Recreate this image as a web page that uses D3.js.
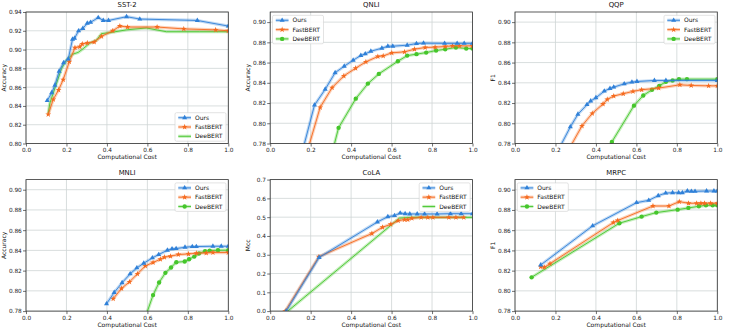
<!DOCTYPE html>
<html><head><meta charset="utf-8">
<script src="https://cdn.jsdelivr.net/npm/d3@7"></script>
<style>body{margin:0;background:#fff}svg{display:block}text{font-family:"DejaVu Sans",sans-serif}</style>
</head><body><svg id="c" width="735" height="336"></svg>
<script>
// ---------- data ----------
const seriesNames = ["Ours", "FastBERT", "DeeBERT"];
const xTicks = [0, 0.2, 0.4, 0.6, 0.8, 1.0];
const panelTitles = ["SST-2", "QNLI", "QQP", "MNLI", "CoLA", "MRPC"];
const yLabels = ["Accuracy", "Accuracy", "F1", "Accuracy", "Mcc", "F1"];
const yDomains = [[0.80, 0.94], [0.78, 0.91], [0.78, 0.91], [0.78, 0.91], [0.0, 0.7], [0.78, 0.91]];
const yTicksSST2 = [0.80, 0.82, 0.84, 0.86, 0.88, 0.90, 0.92, 0.94];
const yTicksGlue = [0.78, 0.80, 0.82, 0.84, 0.86, 0.88, 0.90];
const yTicksCoLA = [0.0, 0.1, 0.2, 0.3, 0.4, 0.5, 0.6, 0.7];
const legendPlaces = ["lower right", "upper left", "upper right", "upper right", "upper right", "upper left"];
const deeMarkers = [false, true, true, true, false, true];

const sst2Ours = [[0.105,0.8456],[0.127,0.854],[0.143,0.862],[0.164,0.877],[0.186,0.886],[0.209,0.890],[0.230,0.911],[0.240,0.912],[0.260,0.920],[0.281,0.9225],[0.303,0.928],[0.319,0.929],[0.357,0.934],[0.382,0.931],[0.408,0.931],[0.497,0.935],[0.5625,0.9325],[0.847,0.931],[1.0,0.925]];
const sst2Fast = [[0.110,0.831],[0.135,0.847],[0.161,0.857],[0.184,0.868],[0.214,0.887],[0.242,0.902],[0.266,0.903],[0.278,0.906],[0.303,0.907],[0.337,0.908],[0.373,0.914],[0.429,0.920],[0.464,0.925],[0.502,0.924],[0.648,0.924],[0.780,0.922],[0.9375,0.921],[1.0,0.920]];
const sst2Dee = [[0.110,0.832],[0.118,0.843],[0.143,0.859],[0.176,0.880],[0.201,0.889],[0.230,0.895],[0.258,0.897],[0.283,0.901],[0.316,0.907],[0.349,0.910],[0.373,0.917],[0.414,0.918],[0.497,0.921],[0.595,0.923],[0.694,0.919],[0.859,0.919],[1.0,0.919]];

const qnliOurs = [[0.13,0.75],[0.219,0.818],[0.272,0.8336],[0.321,0.850],[0.366,0.8564],[0.410,0.8623],[0.448,0.867],[0.470,0.8686],[0.4975,0.8712],[0.552,0.8742],[0.5815,0.8762],[0.606,0.8762],[0.677,0.8772],[0.723,0.8788],[0.758,0.8792],[0.862,0.879],[0.924,0.879],[0.959,0.879],[1.0,0.879]];
const qnliFast = [[0.18,0.77],[0.247,0.8157],[0.306,0.8352],[0.364,0.8468],[0.422,0.8544],[0.473,0.8607],[0.532,0.866],[0.5585,0.8666],[0.601,0.8696],[0.664,0.8706],[0.713,0.8732],[0.766,0.8749],[0.815,0.8752],[0.865,0.8759],[0.901,0.8765],[0.936,0.8765],[1.0,0.8765]];
const qnliDee = [[0.30,0.766],[0.338,0.7955],[0.423,0.8243],[0.483,0.8392],[0.537,0.8488],[0.631,0.8613],[0.677,0.8669],[0.723,0.8683],[0.771,0.8699],[0.820,0.8719],[0.865,0.8732],[0.918,0.8749],[0.969,0.8739],[1.0,0.8739]];

const qqpOurs = [[0.21,0.772],[0.2735,0.7964],[0.311,0.8089],[0.356,0.8184],[0.374,0.822],[0.400,0.8252],[0.4415,0.8318],[0.4695,0.8344],[0.488,0.8357],[0.540,0.839],[0.578,0.8407],[0.603,0.8413],[0.689,0.8423],[0.746,0.8423],[1.0,0.8423]];
const qqpFast = [[0.26,0.772],[0.331,0.7974],[0.382,0.8098],[0.435,0.819],[0.456,0.8236],[0.488,0.8269],[0.535,0.8292],[0.583,0.8315],[0.626,0.8331],[0.710,0.8348],[0.815,0.838],[0.871,0.8374],[0.957,0.837],[1.0,0.837]];
const qqpDee = [[0.45,0.77],[0.479,0.7816],[0.588,0.8174],[0.634,0.8275],[0.677,0.8331],[0.713,0.837],[0.746,0.841],[0.779,0.8423],[0.8105,0.8436],[0.850,0.8436],[1.0,0.8436]];

const mnliOurs = [[0.398,0.7872],[0.436,0.7984],[0.475,0.808],[0.515,0.8168],[0.548,0.8227],[0.582,0.8273],[0.625,0.8326],[0.656,0.8359],[0.699,0.8402],[0.722,0.8415],[0.742,0.8418],[0.786,0.8431],[0.822,0.8438],[0.842,0.8438],[0.924,0.8441],[0.965,0.8441],[1.0,0.8441]];
const mnliFast = [[0.431,0.7922],[0.472,0.8024],[0.5115,0.8089],[0.551,0.8168],[0.590,0.8247],[0.628,0.828],[0.664,0.8313],[0.684,0.8333],[0.714,0.8342],[0.753,0.8359],[0.803,0.8365],[0.842,0.8372],[0.891,0.8375],[0.924,0.8379],[1.0,0.8379]];
const mnliDee = [[0.59,0.774],[0.628,0.7958],[0.658,0.8083],[0.689,0.8178],[0.717,0.8231],[0.743,0.8283],[0.7845,0.829],[0.806,0.8313],[0.832,0.8339],[0.855,0.8369],[0.885,0.8392],[0.908,0.8398],[0.949,0.8402],[1.0,0.8402]];

const colaOurs = [[0.079,0.0],[0.242,0.2857],[0.530,0.4744],[0.5815,0.5026],[0.6145,0.508],[0.6425,0.522],[0.667,0.5185],[0.690,0.517],[0.7265,0.517],[0.763,0.517],[0.825,0.517],[0.891,0.5185],[0.944,0.5185],[1.0,0.5185]];
const colaFast = [[0.074,0.0],[0.2405,0.2892],[0.5025,0.4127],[0.555,0.4462],[0.596,0.462],[0.6325,0.4815],[0.664,0.4868],[0.680,0.4868],[0.700,0.4938],[0.746,0.499],[0.779,0.499],[0.804,0.499],[0.883,0.499],[0.918,0.499],[0.957,0.499]];
const colaDee = [[0.087,0.0],[0.639,0.495],[0.70,0.499],[1.0,0.499]];

const mrpcOurs = [[0.127,0.8256],[0.384,0.8643],[0.601,0.8872],[0.661,0.8895],[0.708,0.8941],[0.745,0.8967],[0.779,0.897],[0.809,0.897],[0.827,0.897],[0.852,0.8987],[0.872,0.8984],[0.890,0.8984],[0.947,0.8987],[0.9835,0.8987],[1.0,0.8987]];
const mrpcFast = [[0.127,0.8239],[0.145,0.8233],[0.173,0.8269],[0.486,0.8675],[0.5075,0.8695],[0.682,0.8839],[0.761,0.8839],[0.812,0.8882],[0.858,0.8866],[0.898,0.8866],[0.919,0.8866],[0.937,0.8866],[0.967,0.8866],[1.0,0.8866]];
const mrpcDee = [[0.082,0.8134],[0.516,0.8669],[0.626,0.8734],[0.6985,0.8774],[0.804,0.8803],[0.857,0.882],[0.909,0.8836],[0.944,0.8846],[0.977,0.8846],[1.0,0.8846]];

// ---------- layout / style ----------
const colors = ["#2f80d8", "#f56a1e", "#45c62b"];
const symbols = [d3.symbolTriangle, d3.symbolStar, d3.symbolCircle];
const symSizes = [11, 11, 15];
const colX = [26, 270.2, 515];
const rowY = [12, 179.6];
const W = 202.3, H = 131.5;

const panels = [
  {series: [sst2Ours, sst2Fast, sst2Dee], yt: yTicksSST2, fmt: ".2f"},
  {series: [qnliOurs, qnliFast, qnliDee], yt: yTicksGlue, fmt: ".2f"},
  {series: [qqpOurs, qqpFast, qqpDee], yt: yTicksGlue, fmt: ".2f"},
  {series: [mnliOurs, mnliFast, mnliDee], yt: yTicksGlue, fmt: ".2f"},
  {series: [colaOurs, colaFast, colaDee], yt: yTicksCoLA, fmt: ".1f"},
  {series: [mrpcOurs, mrpcFast, mrpcDee], yt: yTicksGlue, fmt: ".2f"}
];

const svg = d3.select("#c");
const FS = 5.8;

panels.forEach((p, i) => {
  const ox = colX[i % 3], oy = rowY[Math.floor(i / 3)];
  const g = svg.append("g").attr("transform", `translate(${ox},${oy})`);
  const x = d3.scaleLinear().domain([0, 1]).range([0, W]);
  const y = d3.scaleLinear().domain(yDomains[i]).range([H, 0]);

  // grid
  g.append("g").selectAll("line.vx").data(xTicks).join("line")
    .attr("x1", d => x(d)).attr("x2", d => x(d)).attr("y1", 0).attr("y2", H)
    .attr("stroke", "#cfd5d5").attr("stroke-width", 0.8);
  g.append("g").selectAll("line.hy").data(p.yt).join("line")
    .attr("x1", 0).attr("x2", W).attr("y1", d => y(d)).attr("y2", d => y(d))
    .attr("stroke", "#cfd5d5").attr("stroke-width", 0.8);

  // axes
  const ax = g.append("g").attr("transform", `translate(0,${H})`)
    .call(d3.axisBottom(x).tickValues(xTicks).tickFormat(d3.format(".1f")).tickSize(3).tickSizeOuter(0).tickPadding(1.5));
  const ay = g.append("g")
    .call(d3.axisLeft(y).tickValues(p.yt).tickFormat(d3.format(p.fmt)).tickSize(3).tickSizeOuter(0).tickPadding(1.2));
  [ax, ay].forEach(a => {
    a.select(".domain").remove();
    a.selectAll("line").attr("stroke", "#333").attr("stroke-width", 0.7);
    a.selectAll("text").attr("font-size", FS).attr("fill", "#222").attr("font-family", "DejaVu Sans");
  });

  // clip
  const cid = "clip" + i;
  g.append("clipPath").attr("id", cid).append("rect").attr("width", W).attr("height", H);
  const plot = g.append("g").attr("clip-path", `url(#${cid})`);
  const line = d3.line().x(d => x(d[0])).y(d => y(d[1]));

  // draw in order DeeBERT, FastBERT, Ours so Ours on top
  [2, 1, 0].forEach(s => {
    const data = p.series[s];
    plot.append("path").attr("d", line(data)).attr("fill", "none")
      .attr("stroke", colors[s]).attr("stroke-width", 3.2).attr("stroke-opacity", 0.3).attr("stroke-linejoin", "round");
    plot.append("path").attr("d", line(data)).attr("fill", "none")
      .attr("stroke", colors[s]).attr("stroke-width", 0.9).attr("stroke-linejoin", "round");
    if (s < 2 || deeMarkers[i]) {
      plot.selectAll(null).data(data).join("path")
        .attr("transform", d => `translate(${x(d[0])},${y(d[1])})`)
        .attr("d", d3.symbol().type(symbols[s]).size(symSizes[s]))
        .attr("fill", colors[s]);
    }
  });

  // frame
  g.append("rect").attr("width", W).attr("height", H).attr("fill", "none")
    .attr("stroke", "#333").attr("stroke-width", 0.8);

  // title and labels
  g.append("text").attr("x", W / 2).attr("y", -4.6).attr("text-anchor", "middle")
    .attr("font-size", 6.9).attr("fill", "#111").text(panelTitles[i]);
  g.append("text").attr("x", W / 2).attr("y", H + 15.6).attr("text-anchor", "middle")
    .attr("font-size", 6).attr("fill", "#111").text("Computational Cost");
  g.append("text").attr("transform", `translate(-20.5,${H / 2}) rotate(-90)`).attr("text-anchor", "middle")
    .attr("font-size", 6).attr("fill", "#111").text(yLabels[i]);

  // legend
  const lw = 51, lh = 28.5, m = 2.3;
  const place = legendPlaces[i];
  const lx = place.includes("left") ? m : W - m - lw;
  const ly = place.includes("upper") ? m + 1 : H - m - lh;
  const lg = g.append("g").attr("transform", `translate(${lx},${ly})`);
  lg.append("rect").attr("width", lw).attr("height", lh).attr("rx", 1.5)
    .attr("fill", "#fff").attr("fill-opacity", 0.85).attr("stroke", "#d0d0d0").attr("stroke-width", 0.6);
  seriesNames.forEach((nm, s) => {
    const yy = 5 + s * 9.3;
    lg.append("line").attr("x1", 3.3).attr("x2", 16).attr("y1", yy).attr("y2", yy)
      .attr("stroke", colors[s]).attr("stroke-width", 3.2).attr("stroke-opacity", 0.3);
    lg.append("line").attr("x1", 3.3).attr("x2", 16).attr("y1", yy).attr("y2", yy)
      .attr("stroke", colors[s]).attr("stroke-width", 0.9);
    if (s < 2 || deeMarkers[i]) {
      lg.append("path").attr("transform", `translate(9.65,${yy})`)
        .attr("d", d3.symbol().type(symbols[s]).size(symSizes[s])).attr("fill", colors[s]);
    }
    lg.append("text").attr("x", 20).attr("y", yy + 2.1).attr("font-size", 6).attr("fill", "#111").text(nm);
  });
});
</script></body></html>
